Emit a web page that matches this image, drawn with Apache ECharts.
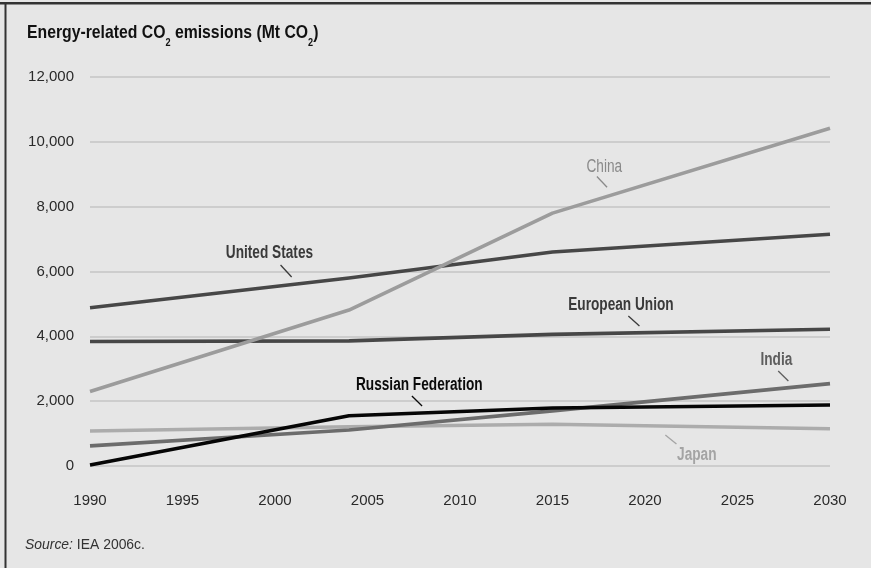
<!DOCTYPE html>
<html>
<head>
<meta charset="utf-8">
<script src="https://cdn.jsdelivr.net/npm/echarts@6/dist/echarts.min.js"></script>
<style>
html,body{margin:0;padding:0;background:#e6e6e6;}
#chart{width:871px;height:568px;}
</style>
</head>
<body>
<div id="chart"></div>
<script>
// ---- data (Mt CO2) ----
var years = [1990, 2004, 2015, 2030];
var china = [2300, 4810, 7800, 10420];
var unitedStates = [4880, 5800, 6600, 7150];
var europeanUnion = [3840, 3860, 4060, 4220];
var india = [620, 1110, 1700, 2540];
var russia = [30, 1550, 1790, 1880];
var japan = [1080, 1210, 1290, 1150];
var xTicks = [1990, 1995, 2000, 2005, 2010, 2015, 2020, 2025, 2030];
var yTicks = [0, 2000, 4000, 6000, 8000, 10000, 12000];

// annotation anchors in data units
var annotations = {
  'China':              {text: [2017.8, 9220], lead: [[2017.4, 8930], [2017.95, 8600]]},
  'United States':      {text: [1999.7, 6560], lead: [[2000.3, 6200], [2000.9, 5830]]},
  'European Union':     {text: [2018.7, 4950], lead: [[2019.1, 4630], [2019.7, 4320]]},
  'India':              {text: [2027.1, 3250], lead: [[2027.2, 2930], [2027.75, 2620]]},
  'Russian Federation': {text: [2007.8, 2480], lead: [[2007.4, 2160], [2007.95, 1850]]},
  'Japan':              {text: [2022.8, 320],  lead: [[2021.1, 960],  [2021.7, 680]]}
};

var REG = '"Liberation Sans", Arial, Helvetica, sans-serif';

function pairs(vals) {
  return years.map(function (y, i) { return [y, vals[i]]; });
}

var seriesDefs = [
  {name: 'Japan', vals: japan, color: '#acacac', labelColor: '#a4a4a4', bold: true},
  {name: 'India', vals: india, color: '#6c6c6c', labelColor: '#5e5e5e', bold: true},
  {name: 'European Union', vals: europeanUnion, color: '#474747', labelColor: '#3a3a3a', bold: true},
  {name: 'United States', vals: unitedStates, color: '#474747', labelColor: '#3a3a3a', bold: true},
  {name: 'China', vals: china, color: '#9c9c9c', labelColor: '#8a8a8a', bold: false},
  {name: 'Russian Federation', vals: russia, color: '#060606', labelColor: '#0a0a0a', bold: true}
];

function makeSeries(d) {
  var a = annotations[d.name];
  return {
    name: d.name,
    type: 'line',
    data: pairs(d.vals),
    symbol: 'none',
    lineStyle: {color: d.color, width: 3.6, cap: 'butt', join: 'round'},
    silent: true,
    markLine: {
      symbol: ['none', 'none'],
      silent: true,
      label: {show: false},
      lineStyle: {color: d.labelColor, width: 1.3, type: 'solid'},
      data: [[{coord: a.lead[0]}, {coord: a.lead[1]}]]
    }
  };
}

var chart = echarts.init(document.getElementById('chart'), null, {renderer: 'canvas'});
chart.setOption({
  backgroundColor: '#e6e6e6',
  animation: false,
  grid: {left: 90, right: 41, top: 77, bottom: 102, containLabel: false},
  xAxis: {
    type: 'value',
    min: xTicks[0],
    max: xTicks[xTicks.length - 1],
    interval: 5,
    axisLine: {show: false},
    axisTick: {show: false},
    splitLine: {show: false},
    axisLabel: {margin: 27, color: '#2a2a2a', fontFamily: REG, fontSize: 15, formatter: function (v) { return String(v); }}
  },
  yAxis: {
    type: 'value',
    min: yTicks[0],
    max: yTicks[yTicks.length - 1],
    interval: 2000,
    axisLine: {show: false},
    axisTick: {show: false},
    splitLine: {show: true, lineStyle: {color: '#c4c4c4', width: 1.5}},
    axisLabel: {margin: 16, color: '#2a2a2a', fontFamily: REG, fontSize: 15,
      formatter: function (v) { return v.toLocaleString('en-US'); }}
  },
  series: seriesDefs.map(makeSeries)
});

// condensed-looking texts: regular font squeezed horizontally
var graphics = [
  {type: 'rect', left: 0, top: 2, shape: {width: 871, height: 2.5}, style: {fill: '#333'}, silent: true},
  {type: 'rect', left: 4.5, top: 2, shape: {width: 2, height: 566}, style: {fill: '#333'}, silent: true},
  {
    type: 'text', x: 27, y: 33, scaleX: 0.83, silent: true,
    style: {
      x: 0, y: 0, align: 'left', verticalAlign: 'middle',
      text: '{a|Energy-related CO}{s|2}{a| emissions (Mt CO}{s|2}{a|)}',
      rich: {
        a: {fontFamily: REG, fontWeight: 'bold', fontSize: 19, fill: '#111'},
        s: {fontFamily: REG, fontWeight: 'bold', fontSize: 11, fill: '#111', verticalAlign: 'bottom', padding: [0, 0, -6, 0]}
      }
    }
  },
  {
    type: 'text', x: 25, y: 545, scaleX: 0.96, silent: true,
    style: {
      x: 0, y: 0, align: 'left', verticalAlign: 'middle',
      text: '{i|Source:}{n| IEA 2006c.}',
      rich: {
        i: {fontFamily: REG, fontStyle: 'italic', fontSize: 14.5, fill: '#333'},
        n: {fontFamily: REG, fontSize: 14.5, fill: '#333'}
      }
    }
  }
];
seriesDefs.forEach(function (d) {
  var p = chart.convertToPixel({gridIndex: 0}, annotations[d.name].text);
  graphics.push({
    type: 'text', x: p[0], y: p[1], scaleX: 0.78, silent: true,
    style: {
      x: 0, y: 0, align: 'center', verticalAlign: 'middle',
      text: d.name, fontFamily: REG, fontWeight: d.bold ? 'bold' : 'normal',
      fontSize: 17.5, fill: d.labelColor
    }
  });
});
chart.setOption({graphic: graphics});
</script>
</body>
</html>
